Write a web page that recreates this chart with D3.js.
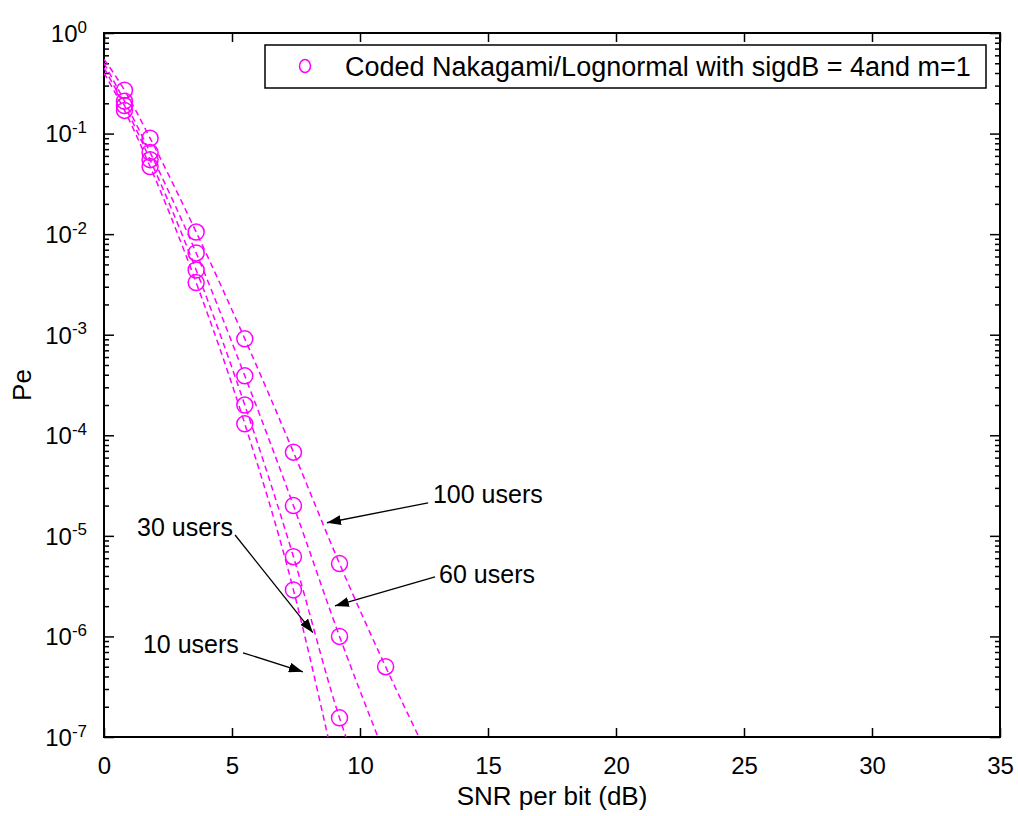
<!DOCTYPE html>
<html>
<head>
<meta charset="utf-8">
<script src="https://cdnjs.cloudflare.com/ajax/libs/d3/7.8.5/d3.min.js"></script>
<style>
  body { margin: 0; background: #fff; }
  svg { display: block; font-family: "Liberation Sans", Arial, sans-serif; }
</style>
</head>
<body>
<div class="box"></div>
<script>
// DATA
const snrMarkers = [0.8, 1.8, 3.6, 5.5, 7.4, 9.2, 11.0];
const pe10users  = [0.17, 0.047, 0.0033, 1.3e-4, 2.9e-6];
const pe30users  = [0.19, 0.055, 0.0044, 2.0e-4, 6.2e-6, 1.55e-7];
const pe60users  = [0.21, 0.065, 0.0065, 3.9e-4, 2.0e-5, 1.0e-6];
const pe100users = [0.27, 0.09, 0.0105, 9.1e-4, 6.8e-5, 5.3e-6, 5.0e-7];

// dashed curves: value at 0 dB and SNR where each reaches 1e-7
const curveStartPe = [0.40, 0.45, 0.50, 0.55];
const curveEndSnr  = [8.75, 9.45, 10.7, 12.3];

const xTicks = [0, 5, 10, 15, 20, 25, 30, 35];
const yExponents = [0, -1, -2, -3, -4, -5, -6, -7];

const legendLabel = "Coded Nakagami/Lognormal with sigdB = 4and m=1";

const annotations = [
  {text: "100 users", tx: 12.85, ty: 2.13e-5, x0: 12.66, y0: 2.13e-5, x1: 8.71, y1: 1.35e-5},
  {text: "60 users",  tx: 13.09, ty: 3.41e-6, x0: 12.93, y0: 3.91e-6, x1: 9.02, y1: 2.01e-6},
  {text: "30 users",  tx: 1.29,  ty: 1.0e-5,  x0: 5.12,  y0: 1.02e-5, x1: 8.16, y1: 1.09e-6},
  {text: "10 users",  tx: 1.52,  ty: 6.87e-7, x0: 5.43,  y0: 6.87e-7, x1: 7.77, y1: 4.45e-7}
];

const seriesPe = [pe10users, pe30users, pe60users, pe100users];

////////////////////////////////////////////////////////////////

// SVG
const w = 1018;
const h = 816;
const margin = {left: 104, top: 33, right: 18, bottom: 79};
const pw = w - margin.left - margin.right;
const ph = h - margin.top - margin.bottom;
const magenta = "#ff00ff";

const svg = d3.select(".box")
  .append("svg")
  .attr("width", w)
  .attr("height", h)
  .style("background", "#fff");

const x = d3.scaleLinear().domain([0, 35]).range([0, pw]);
const y = d3.scaleLog().domain([1e-7, 1]).range([ph, 0]);

const g = svg.append("g")
  .attr("transform", "translate(" + margin.left + "," + margin.top + ")");

svg.append("defs").append("clipPath")
  .attr("id", "clip")
  .append("rect")
  .attr("width", pw)
  .attr("height", ph);

svg.select("defs").append("marker")
  .attr("id", "head")
  .attr("viewBox", "0 0 14 10")
  .attr("refX", 14)
  .attr("refY", 5)
  .attr("markerWidth", 14)
  .attr("markerHeight", 10)
  .attr("markerUnits", "userSpaceOnUse")
  .attr("orient", "auto")
  .append("path")
  .attr("d", "M0,0 L14,5 L0,10 Z")
  .attr("fill", "#000");

////////////////////////////////////////////////////////////////

// AXES
const minorTicks = [];
yExponents.slice(1).forEach(e => {
  for (let k = 2; k <= 9; k++) minorTicks.push(k * Math.pow(10, e));
});
const majorTicks = yExponents.map(e => Math.pow(10, e));

function styleAxis(sel) {
  sel.select(".domain").remove();
  sel.selectAll("line").attr("stroke", "#000").attr("stroke-width", 1.5);
  sel.selectAll("text").attr("fill", "#000");
}

g.append("g")
  .attr("transform", "translate(0," + ph + ")")
  .call(d3.axisBottom(x).tickValues(xTicks).tickSize(-9).tickPadding(20).tickFormat(d3.format("d")))
  .call(styleAxis)
  .selectAll("text").style("font-size", "24px");

g.append("g")
  .call(d3.axisTop(x).tickValues(xTicks).tickSize(-9).tickFormat(""))
  .call(styleAxis);

const yAxis = g.append("g")
  .call(d3.axisLeft(y).tickValues(majorTicks).tickSize(-10).tickPadding(17).tickFormat(""))
  .call(styleAxis);

yAxis.selectAll(".tick text")
  .attr("dy", "0.35em")
  .style("font-size", "24px")
  .each(function(d) {
    const t = d3.select(this);
    t.append("tspan").text("10");
    t.append("tspan")
      .attr("dy", "-0.55em")
      .style("font-size", "17px")
      .text(Math.round(Math.log10(d)));
  });

g.append("g")
  .call(d3.axisLeft(y).tickValues(minorTicks).tickSize(-5).tickFormat(""))
  .call(styleAxis);

g.append("g")
  .attr("transform", "translate(" + pw + ",0)")
  .call(d3.axisRight(y).tickValues(majorTicks).tickSize(-10).tickFormat(""))
  .call(styleAxis);

g.append("g")
  .attr("transform", "translate(" + pw + ",0)")
  .call(d3.axisRight(y).tickValues(minorTicks).tickSize(-5).tickFormat(""))
  .call(styleAxis);

// box
g.append("rect")
  .attr("width", pw)
  .attr("height", ph)
  .attr("fill", "none")
  .attr("stroke", "#000")
  .attr("stroke-width", 2);

// axis labels
svg.append("text")
  .attr("x", margin.left + pw / 2)
  .attr("y", 805)
  .attr("text-anchor", "middle")
  .style("font-size", "26px")
  .text("SNR per bit (dB)");

svg.append("text")
  .attr("transform", "translate(31," + (margin.top + ph / 2) + ") rotate(-90)")
  .attr("text-anchor", "middle")
  .style("font-size", "26px")
  .text("Pe");

////////////////////////////////////////////////////////////////

// CURVES
const line = d3.line()
  .x(d => x(d[0]))
  .y(d => y(d[1]))
  .curve(d3.curveMonotoneX);

const plot = g.append("g").attr("clip-path", "url(#clip)");

seriesPe.forEach((pe, i) => {
  const pts = [[0, curveStartPe[i]]]
    .concat(pe.map((v, j) => [snrMarkers[j], v]))
    .concat([[curveEndSnr[i], 1e-7]]);
  plot.append("path")
    .datum(pts)
    .attr("d", line)
    .attr("fill", "none")
    .attr("stroke", magenta)
    .attr("stroke-width", 1.5)
    .attr("stroke-dasharray", "6,4");
});

seriesPe.forEach(pe => {
  plot.selectAll(null)
    .data(pe.map((v, j) => [snrMarkers[j], v]))
    .enter()
    .append("circle")
    .attr("cx", d => x(d[0]))
    .attr("cy", d => y(d[1]))
    .attr("r", 8)
    .attr("fill", "none")
    .attr("stroke", magenta)
    .attr("stroke-width", 1.5);
});

////////////////////////////////////////////////////////////////

// ANNOTATIONS
annotations.forEach(a => {
  g.append("line")
    .attr("x1", x(a.x0)).attr("y1", y(a.y0))
    .attr("x2", x(a.x1)).attr("y2", y(a.y1))
    .attr("stroke", "#000")
    .attr("stroke-width", 1.3)
    .attr("marker-end", "url(#head)");
  g.append("text")
    .attr("x", x(a.tx))
    .attr("y", y(a.ty))
    .style("font-size", "25px")
    .text(a.text);
});

////////////////////////////////////////////////////////////////

// LEGEND
const legend = svg.append("g");
legend.append("rect")
  .attr("x", 265)
  .attr("y", 45)
  .attr("width", 721)
  .attr("height", 43)
  .attr("fill", "#fff")
  .attr("stroke", "#000")
  .attr("stroke-width", 1.5);
legend.append("ellipse")
  .attr("cx", 305)
  .attr("cy", 66)
  .attr("rx", 5.5)
  .attr("ry", 6.5)
  .attr("fill", "none")
  .attr("stroke", magenta)
  .attr("stroke-width", 1.5);
legend.append("text")
  .attr("x", 345)
  .attr("y", 76)
  .style("font-size", "27px")
  .text(legendLabel);
</script>
</body>
</html>
